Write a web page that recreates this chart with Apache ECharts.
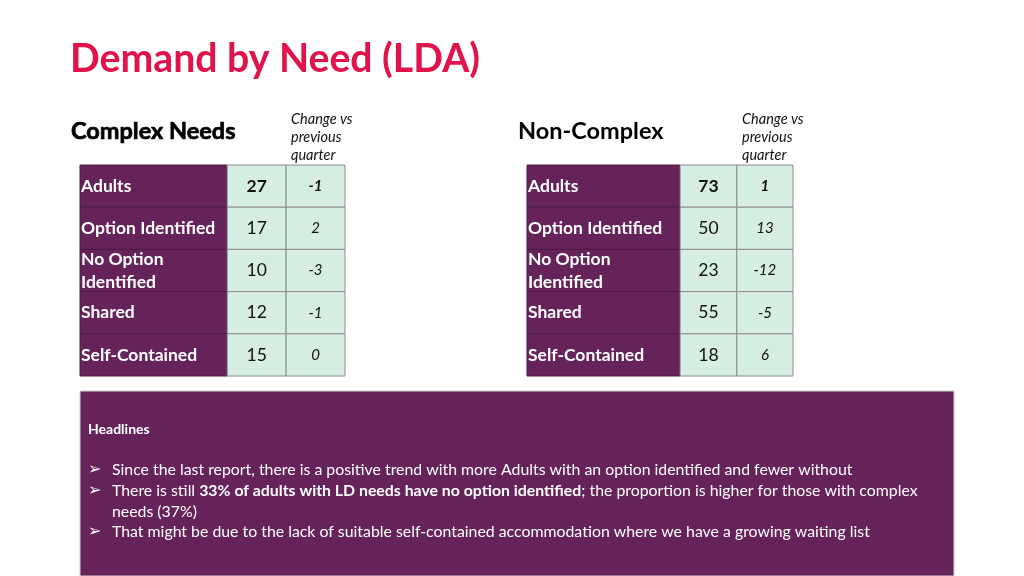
<!DOCTYPE html>
<html>
<head>
<meta charset="utf-8">
<script src="https://cdn.jsdelivr.net/npm/echarts@6/dist/echarts.min.js"></script>
<style>html,body{margin:0;padding:0;background:#fff}#c{width:1024px;height:576px}</style>
</head>
<body>
<div id="c"></div>
<script>
// ---- data ----
const rowLabels = ['Adults', 'Option Identified', 'No Option\nIdentified', 'Shared', 'Self-Contained'];
const complexValues = [27, 17, 10, 12, 15];
const complexChange = [-1, 2, -3, -1, 0];
const nonComplexValues = [73, 50, 23, 55, 18];
const nonComplexChange = [1, 13, -12, -5, 6];
const headlineBullets = [
  'Since the last report, there is a positive trend with more Adults with an option identified and fewer without',
  'There is still {b|33% of adults with LD needs have no option identified}; the proportion is higher for those with complex',
  'needs (37%)',
  'That might be due to the lack of suitable self-contained accommodation where we have a growing waiting list'
];

// ---- style ----
const FONT = 'Lato, "Open Sans", "DejaVu Sans", sans-serif';
const PURPLE = '#66235A';
const GREEN = '#D6EEE2';
const RED = '#E0144A';
const colSpansLeft = [[0, 5], [5, 7], [7, 9]];
const colSpansRight = [[0, 5.18], [5.18, 7.1], [7.1, 9]];

function tableData(values, change) {
  const d = [];
  rowLabels.forEach((l, i) => {
    d.push([0, i, l]);
    d.push([1, i, String(values[i])]);
    d.push([2, i, String(change[i])]);
  });
  return d;
}

function makeRenderer(data, colSpans) {
  return function (params, api) {
    const item = data[params.dataIndex];
    const col = item[0];
    const row = item[1];
    const text = item[2];
    const p0 = api.coord([colSpans[col][0], row]);
    const p1 = api.coord([colSpans[col][1], row + 1]);
    const x = p0[0], y = p0[1], w = p1[0] - p0[0], h = p1[1] - p0[1];
    let style;
    if (col === 0) {
      style = { text: text, fill: '#fff', fontFamily: FONT, fontSize: 17.5, fontWeight: 'bold', align: 'left', verticalAlign: 'middle', lineHeight: 23 };
    } else if (col === 1) {
      style = { text: text, fill: '#111', fontFamily: FONT, fontSize: 17.5, fontWeight: row === 0 ? 'bold' : 'normal', align: 'center', verticalAlign: 'middle' };
    } else {
      style = { text: text, fill: '#111', fontFamily: FONT, fontSize: 15, fontStyle: 'italic', fontWeight: row === 0 ? 'bold' : 'normal', align: 'center', verticalAlign: 'middle' };
    }
    return {
      type: 'group',
      children: [
        { type: 'rect', shape: { x: x, y: y, width: w, height: h },
          style: { fill: col === 0 ? PURPLE : GREEN, stroke: col === 0 ? '#4d1a44' : '#8c8c8c', lineWidth: 1 } },
        { type: 'text', x: col === 0 ? x + 1 : x + w / 2, y: y + h / 2, style: style }
      ]
    };
  };
}

const complexData = tableData(complexValues, complexChange);
const nonComplexData = tableData(nonComplexValues, nonComplexChange);

const chart = echarts.init(document.getElementById('c'));
const axisOff = { show: false };
const titleBase = { padding: 0 };
const changeHead = { color: '#111', fontFamily: FONT, fontSize: 14.5, fontStyle: 'italic', fontWeight: 'normal', lineHeight: 18 };
const option = {
  backgroundColor: '#fff',
  animation: false,
  title: [
    { ...titleBase, text: 'Demand by Need (LDA)', left: 70, top: 40, textStyle: { color: RED, fontFamily: FONT, fontSize: 39.2, fontWeight: 'bold' } },
    { ...titleBase, text: 'Complex Needs', left: 71, top: 119, textStyle: { color: '#000', fontFamily: FONT, fontSize: 23.5, fontWeight: 'bold', textBorderColor: '#000', textBorderWidth: 0.7 } },
    { ...titleBase, text: 'Non-Complex', left: 518, top: 119, textStyle: { color: '#000', fontFamily: FONT, fontSize: 23.5, fontWeight: 'bold' } },
    { ...titleBase, text: 'Change vs\nprevious\nquarter', left: 291, top: 110, textStyle: changeHead },
    { ...titleBase, text: 'Change vs\nprevious\nquarter', left: 742, top: 110, textStyle: changeHead }
  ],
  grid: [
    { left: 80, top: 165, width: 265, height: 211 },
    { left: 527, top: 165, width: 266, height: 211 }
  ],
  xAxis: [
    { type: 'value', gridIndex: 0, min: 0, max: 9, ...axisOff },
    { type: 'value', gridIndex: 1, min: 0, max: 9, ...axisOff }
  ],
  yAxis: [
    { type: 'value', gridIndex: 0, min: 0, max: 5, inverse: true, ...axisOff },
    { type: 'value', gridIndex: 1, min: 0, max: 5, inverse: true, ...axisOff }
  ],
  series: [
    { type: 'custom', xAxisIndex: 0, yAxisIndex: 0, renderItem: makeRenderer(complexData, colSpansLeft), data: complexData.map(d => [d[0], d[1]]), encode: { x: 0, y: 1 } },
    { type: 'custom', xAxisIndex: 1, yAxisIndex: 1, renderItem: makeRenderer(nonComplexData, colSpansRight), data: nonComplexData.map(d => [d[0], d[1]]), encode: { x: 0, y: 1 } }
  ],
  graphic: [
    { type: 'rect', shape: { x: 80, y: 391, width: 874, height: 185 }, style: { fill: PURPLE, stroke: '#cfcfcf', lineWidth: 1 } },
    { type: 'text', x: 88, y: 429, style: { text: 'Headlines', fill: '#fff', fontFamily: FONT, fontSize: 14, fontWeight: 'bold', verticalAlign: 'middle' } }
  ].concat(headlineBullets.map((t, i) => ({
    type: 'group', children: [
      i === 2 ? null : { type: 'text', x: 88, y: 470 + i * 20.7, style: { text: '\u27A2', fill: '#fff', fontFamily: '"DejaVu Sans", sans-serif', fontSize: 16, verticalAlign: 'middle' } },
      { type: 'text', x: 112, y: 470 + i * 20.7, style: { text: t, fill: '#fff', fontFamily: FONT, fontSize: 15.85, verticalAlign: 'middle',
        rich: { b: { fontWeight: 'bold', fill: '#fff', fontFamily: FONT, fontSize: 15.85 } } } }
    ].filter(Boolean)
  })))
};
chart.setOption(option);
</script>
</body>
</html>
